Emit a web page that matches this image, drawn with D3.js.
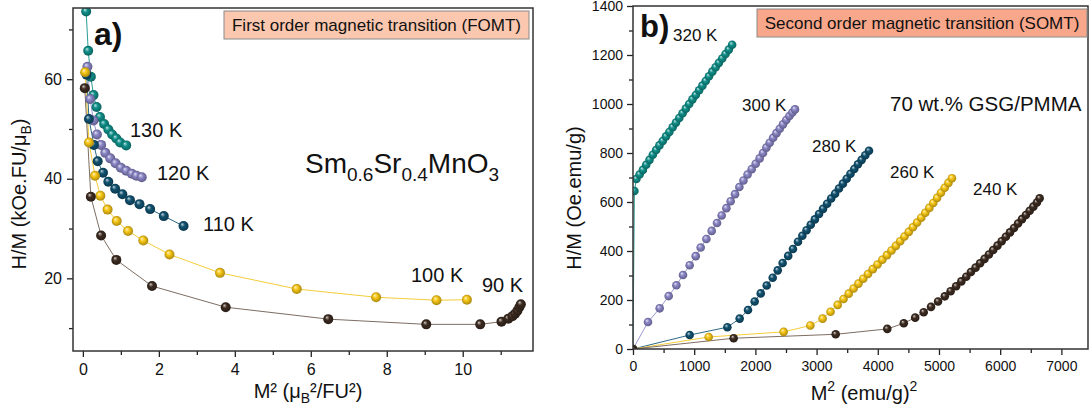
<!DOCTYPE html>
<html>
<head>
<meta charset="utf-8">
<script src="https://cdn.jsdelivr.net/npm/d3@7"></script>
<style>
  body { margin: 0; background: #fff; }
  svg { display: block; font-family: "Liberation Sans", Arial, sans-serif; }
</style>
</head>
<body>
<svg id="chart" width="1089" height="414"></svg>
<script>
// ---------- Panel a: first order transition, Sm0.6Sr0.4MnO3 (M² in μB²/FU², H/M in kOe.FU/μB) ----------
const fomtLabels = ["130 K", "120 K", "110 K", "100 K", "90 K"];
const fomt130x = [0.03, 0.087, 0.14, 0.21, 0.28, 0.36, 0.45, 0.56, 0.67, 0.77, 0.88, 0.98, 1.14];
const fomt130y = [85, 73.6, 65.7, 60.5, 56.8, 54.4, 52.4, 51.0, 49.9, 48.9, 48.1, 47.3, 46.7];
const fomt120x = [0.12, 0.19, 0.28, 0.37, 0.48, 0.59, 0.72, 0.86, 1.0, 1.14, 1.29, 1.41, 1.55];
const fomt120y = [62.5, 56.0, 51.7, 48.9, 46.8, 45.2, 44.1, 43.1, 42.2, 41.6, 41.0, 40.6, 40.3];
const fomt110x = [0.1, 0.16, 0.29, 0.39, 0.53, 0.67, 0.85, 1.04, 1.24, 1.49, 1.77, 2.13, 2.65];
const fomt110y = [60.9, 52.0, 46.8, 43.5, 41.2, 39.4, 38.0, 36.9, 35.7, 34.9, 33.9, 32.5, 30.5];
const fomt100x = [0.06, 0.16, 0.32, 0.46, 0.65, 0.89, 1.19, 1.59, 2.28, 3.61, 5.63, 7.72, 9.31, 10.11];
const fomt100y = [61.4, 47.3, 40.6, 36.6, 33.8, 31.5, 29.5, 27.6, 24.8, 21.1, 17.85, 16.2, 15.6, 15.7];
const fomt90x = [0.05, 0.21, 0.48, 0.88, 1.82, 3.76, 6.46, 9.04, 10.46, 11.02, 11.2, 11.31, 11.38, 11.44, 11.49, 11.53];
const fomt90y = [58.2, 36.4, 28.6, 23.7, 18.45, 14.2, 11.8, 10.75, 10.75, 11.3, 11.9, 12.4, 12.9, 13.5, 14.2, 14.8];
const fomtXTicks = [0, 2, 4, 6, 8, 10];
const fomtXMinor = [1, 3, 5, 7, 9, 11];
const fomtYTicks = [20, 40, 60];
const fomtYMinor = [10, 30, 50, 70];

// ---------- Panel b: second order transition, 70 wt.% GSG/PMMA (M² in (emu/g)², H/M in Oe.emu/g) ----------
const somtLabels = ["320 K", "300 K", "280 K", "260 K", "240 K"];
const somt320x = [0, 23, 55, 108, 162, 216, 270, 324, 378, 432, 486, 540, 594, 648, 702, 756, 810, 864, 918, 972, 1026, 1080, 1134, 1188, 1242, 1296, 1350, 1404, 1458, 1512, 1566, 1620];
const somt320y = [0, 645, 694, 712, 731, 752, 772, 793, 812, 831, 849, 868, 886, 905, 924, 943, 962, 981, 1000, 1019, 1037, 1056, 1075, 1094, 1113, 1132, 1150, 1168, 1186, 1204, 1222, 1242];
const somt300x = [0, 245, 436, 583, 709, 817, 926, 1025, 1106, 1199, 1286, 1373, 1449, 1526, 1596, 1667, 1738, 1805, 1872, 1940, 2005, 2070, 2124, 2180, 2234, 2290, 2344, 2398, 2452, 2504, 2556, 2604, 2647];
const somt300y = [0, 110, 166, 216, 260, 302, 342, 379, 414, 449, 482, 514, 545, 575, 603, 632, 661, 688, 712, 734, 756, 778, 800, 822, 842, 862, 881, 899, 917, 935, 951, 965, 978];
const somt280x = [0, 926, 1542, 1743, 1879, 1988, 2087, 2185, 2283, 2365, 2445, 2536, 2614, 2696, 2767, 2836, 2904, 2972, 3040, 3106, 3172, 3238, 3302, 3366, 3430, 3492, 3554, 3616, 3676, 3736, 3796, 3856];
const somt280y = [0, 57, 89, 124, 159, 194, 227, 259, 291, 321, 351, 380, 408, 438, 462, 485, 507, 529, 551, 572, 593, 614, 634, 655, 675, 695, 715, 735, 754, 772, 791, 809];
const somt260x = [0, 1237, 2462, 2898, 3098, 3228, 3345, 3440, 3525, 3605, 3684, 3762, 3840, 3918, 3996, 4074, 4150, 4224, 4296, 4366, 4436, 4506, 4574, 4642, 4710, 4776, 4842, 4906, 4970, 5032, 5094, 5154, 5212];
const somt260y = [0, 49, 70, 96, 124, 152, 180, 204, 226, 247, 267, 287, 306, 326, 345, 364, 383, 402, 421, 440, 459, 478, 497, 516, 536, 556, 576, 596, 617, 638, 658, 678, 697];
const somt240x = [0, 1645, 3312, 4155, 4425, 4611, 4750, 4870, 4985, 5095, 5190, 5280, 5365, 5445, 5522, 5598, 5672, 5745, 5816, 5886, 5956, 6024, 6092, 6160, 6226, 6292, 6356, 6420, 6482, 6542, 6600, 6645];
const somt240y = [0, 44, 60, 82, 105, 128, 150, 172, 194, 215, 236, 256, 276, 295, 314, 332, 350, 368, 386, 404, 422, 440, 458, 476, 494, 512, 530, 547, 564, 581, 598, 615];
const somtXTicks = [0, 1000, 2000, 3000, 4000, 5000, 6000, 7000];
const somtXMinor = [500, 1500, 2500, 3500, 4500, 5500, 6500];
const somtYTicks = [0, 200, 400, 600, 800, 1000, 1200, 1400];
const somtYMinor = [100, 300, 500, 700, 900, 1100, 1300];

// one colour per curve, shared by both panels (hottest first)
const dotColors  = ["#10908a", "#8a86c6", "#115170", "#f7c615", "#3c2b20"];
const lineColors = ["#2a9d97", "#9d9ad0", "#2e6a86", "#f5cd3a", "#7d6d62"];

const svg = d3.select("#chart");
const defs = svg.append("defs");

// shaded-sphere gradients for the markers
dotColors.forEach((c, i) => {
  const g = defs.append("radialGradient").attr("id", "ball" + i)
    .attr("cx", "50%").attr("cy", "50%").attr("r", "55%")
    .attr("fx", "35%").attr("fy", "30%");
  g.append("stop").attr("offset", "0%").attr("stop-color", d3.interpolateRgb(c, "#ffffff")(0.75));
  g.append("stop").attr("offset", "40%").attr("stop-color", c);
  g.append("stop").attr("offset", "100%").attr("stop-color", d3.interpolateRgb(c, "#000000")(0.35));
});

function zip(xs, ys) { return xs.map((x, i) => [x, ys[i]]); }

function drawPanel(p) {
  const g = svg.append("g");
  const x = d3.scaleLinear().domain(p.xDomain).range([p.left, p.right]);
  const y = d3.scaleLinear().domain(p.yDomain).range([p.bottom, p.top]);

  defs.append("clipPath").attr("id", p.id + "clip")
    .append("rect").attr("x", p.left).attr("y", p.top)
    .attr("width", p.right - p.left).attr("height", p.bottom - p.top);

  // axes with major and minor ticks
  const styleAxis = (sel, fs) => {
    sel.select(".domain").remove();
    sel.selectAll("line").attr("stroke", "#222").attr("stroke-width", 1.3);
    sel.selectAll("text").attr("font-size", fs).attr("fill", "#111")
      .attr("font-family", "Liberation Sans, Arial, sans-serif");
  };
  g.append("g").attr("transform", `translate(0,${p.bottom})`)
    .call(d3.axisBottom(x).tickValues(p.xTicks).tickSize(p.tickLen).tickPadding(p.xPad).tickFormat(d3.format("d")))
    .call(s => styleAxis(s, p.tickFont));
  g.append("g").attr("transform", `translate(0,${p.bottom})`)
    .call(d3.axisBottom(x).tickValues(p.xMinor).tickSize(p.minorLen).tickFormat(""))
    .call(s => styleAxis(s, p.tickFont));
  g.append("g").attr("transform", `translate(${p.left},0)`)
    .call(d3.axisLeft(y).tickValues(p.yTicks).tickSize(p.tickLen).tickPadding(p.yPad).tickFormat(d3.format("d")))
    .call(s => styleAxis(s, p.tickFont));
  g.append("g").attr("transform", `translate(${p.left},0)`)
    .call(d3.axisLeft(y).tickValues(p.yMinor).tickSize(p.minorLen).tickFormat(""))
    .call(s => styleAxis(s, p.tickFont));

  // curves
  const plot = g.append("g").attr("clip-path", `url(#${p.id}clip)`);
  const line = d3.line().x(d => x(d[0])).y(d => y(d[1]));
  p.series.forEach((s, i) => {
    const pts = zip(s[0], s[1]);
    plot.append("path").datum(pts).attr("d", line)
      .attr("fill", "none").attr("stroke", lineColors[i]).attr("stroke-width", 1);
  });
  p.series.forEach((s, i) => {
    const pts = zip(s[0], s[1]);
    plot.selectAll(null).data(pts).enter().append("circle")
      .attr("cx", d => x(d[0])).attr("cy", d => y(d[1])).attr("r", p.dotR)
      .attr("fill", `url(#ball${i})`);
  });

  // frame
  g.append("rect").attr("x", p.left).attr("y", p.top)
    .attr("width", p.right - p.left).attr("height", p.bottom - p.top)
    .attr("fill", "none").attr("stroke", "#333").attr("stroke-width", 1.5);
  return g;
}

// ----- panel a -----
const ga = drawPanel({
  id: "a", left: 73, right: 533, top: 8, bottom: 351,
  xDomain: [-0.26, 11.85], yDomain: [5.4, 74.3],
  xTicks: fomtXTicks, xMinor: fomtXMinor, yTicks: fomtYTicks, yMinor: fomtYMinor,
  tickLen: 6, minorLen: 4, xPad: 7, yPad: 5, tickFont: 16, dotR: 5,
  series: [[fomt130x, fomt130y], [fomt120x, fomt120y], [fomt110x, fomt110y], [fomt100x, fomt100y], [fomt90x, fomt90y]]
});

// ----- panel b -----
const gb = drawPanel({
  id: "b", left: 633, right: 1088, top: 6, bottom: 349,
  xDomain: [0, 7435], yDomain: [0, 1400],
  xTicks: somtXTicks, xMinor: somtXMinor, yTicks: somtYTicks, yMinor: somtYMinor,
  tickLen: 6, minorLen: 4, xPad: 6, yPad: 4, tickFont: 14, dotR: 4.3,
  series: [[somt320x, somt320y], [somt300x, somt300y], [somt280x, somt280y], [somt260x, somt260y], [somt240x, somt240y]]
});

// ----- annotations -----
function txt(x, y, s, size, opts = {}) {
  return svg.append("text").attr("x", x).attr("y", y).attr("font-size", size)
    .attr("fill", "#111").attr("text-anchor", opts.anchor || "start")
    .attr("font-weight", opts.weight || "normal").text(s);
}

// transition boxes
svg.append("rect").attr("x", 224).attr("y", 11).attr("width", 305).attr("height", 28)
  .attr("fill", "#fbc7ae").attr("stroke", "#8a8a8a").attr("stroke-width", 1);
txt(376.5, 31, "First order magnetic transition (FOMT)", 17, { anchor: "middle" });
svg.append("rect").attr("x", 757).attr("y", 9).attr("width", 330).attr("height", 28)
  .attr("fill", "#f9a78b").attr("stroke", "#8a8a8a").attr("stroke-width", 1);
txt(922, 29, "Second order magnetic transition (SOMT)", 17, { anchor: "middle" });

// panel letters
txt(94, 45, "a)", 32, { weight: "bold" });
txt(640, 37, "b)", 31, { weight: "bold" });

// temperature labels, panel a
const fomtLabelPos = [[130, 137], [157, 180], [203, 231], [411, 282], [482, 292]];
fomtLabels.forEach((t, i) => txt(fomtLabelPos[i][0], fomtLabelPos[i][1], t, 20));
// temperature labels, panel b
const somtLabelPos = [[673, 41], [742, 111], [812, 152], [890, 178], [973, 195]];
somtLabels.forEach((t, i) => txt(somtLabelPos[i][0], somtLabelPos[i][1], t, 17));

// compound formula
const f = svg.append("text").attr("x", 305).attr("y", 173).attr("font-size", 28).attr("fill", "#111");
f.append("tspan").text("Sm");
f.append("tspan").attr("font-size", 19).attr("dy", 8).text("0.6");
f.append("tspan").attr("dy", -8).text("Sr");
f.append("tspan").attr("font-size", 19).attr("dy", 8).text("0.4");
f.append("tspan").attr("dy", -8).text("MnO");
f.append("tspan").attr("font-size", 19).attr("dy", 8).text("3");

txt(890, 111, "70 wt.% GSG/PMMA", 20.5);

// axis titles, panel a
const ya = svg.append("text").attr("transform", "translate(26,194) rotate(-90)")
  .attr("text-anchor", "middle").attr("font-size", 20).attr("fill", "#111");
ya.append("tspan").text("H/M (kOe.FU/μ");
ya.append("tspan").attr("font-size", 14).attr("dy", 5).text("B");
ya.append("tspan").attr("dy", -5).text(")");

const xa = svg.append("text").attr("x", 308).attr("y", 398)
  .attr("text-anchor", "middle").attr("font-size", 20).attr("fill", "#111");
xa.append("tspan").text("M² (μ");
xa.append("tspan").attr("font-size", 14).attr("dy", 5).text("B");
xa.append("tspan").attr("dy", -5).text("²/FU²)");

// axis titles, panel b
svg.append("text").attr("transform", "translate(581,198) rotate(-90)")
  .attr("text-anchor", "middle").attr("font-size", 20).attr("fill", "#111")
  .text("H/M (Oe.emu/g)");

const xb = svg.append("text").attr("x", 864).attr("y", 400)
  .attr("text-anchor", "middle").attr("font-size", 20).attr("fill", "#111");
xb.append("tspan").text("M");
xb.append("tspan").attr("font-size", 14).attr("dy", -9).text("2");
xb.append("tspan").attr("dy", 9).text(" (emu/g)");
xb.append("tspan").attr("font-size", 14).attr("dy", -9).text("2");
</script>
</body>
</html>
